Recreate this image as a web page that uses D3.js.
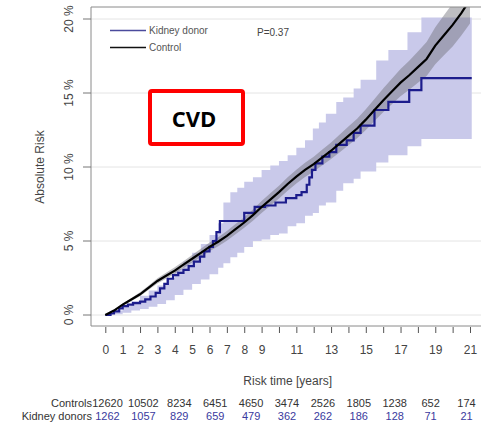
<!DOCTYPE html>
<html>
<head>
<meta charset="utf-8">
<script src="https://d3js.org/d3.v7.min.js"></script>
<style>
  body { margin: 0; background: #fff; }
  svg { display: block; font-family: "Liberation Sans", Arial, sans-serif; }
</style>
</head>
<body>
<div id="chart"></div>
<script>
// Control group: cumulative risk (%) with confidence band
var ctrlTime = [0, 0.5, 1, 1.5, 2, 2.5, 3, 3.5, 4, 4.5, 5, 5.5, 6, 6.5, 7, 7.5, 8, 8.5, 9, 9.5, 10,
  10.5, 11, 11.5, 12, 12.5, 13, 13.5, 14, 14.5, 15, 15.5, 16, 16.5, 17, 17.5, 18, 18.5, 19, 19.5, 20, 20.5, 21];
var ctrlRisk = [0, 0.3, 0.7, 1.05, 1.4, 1.85, 2.3, 2.65, 3.0, 3.4, 3.8, 4.2, 4.6, 4.95, 5.35, 5.8, 6.25,
  6.75, 7.3, 7.8, 8.3, 8.85, 9.35, 9.8, 10.2, 10.65, 11.1, 11.6, 12.1, 12.6, 13.2, 13.85, 14.5,
  15.1, 15.7, 16.2, 16.75, 17.3, 18.2, 18.9, 19.6, 20.4, 21.3];
var ctrlUpper = [0, 0.35, 0.78, 1.15, 1.53, 2.0, 2.48, 2.85, 3.22, 3.64, 4.06, 4.48, 4.9, 5.26, 5.68,
  6.15, 6.61, 7.13, 7.7, 8.22, 8.73, 9.3, 9.82, 10.28, 10.7, 11.18, 11.66, 12.2, 12.73, 13.26, 13.9,
  14.6, 15.3, 15.96, 16.62, 17.18, 17.8, 18.45, 19.45, 20.25, 21.05, 21.92, 22.9];
var ctrlLower = [0, 0.25, 0.62, 0.95, 1.27, 1.7, 2.12, 2.45, 2.78, 3.16, 3.54, 3.92, 4.3, 4.64, 5.02,
  5.45, 5.89, 6.37, 6.9, 7.38, 7.87, 8.4, 8.88, 9.32, 9.7, 10.12, 10.54, 11.0, 11.47, 11.94, 12.5,
  13.1, 13.7, 14.24, 14.78, 15.22, 15.7, 16.15, 16.95, 17.55, 18.15, 18.88, 19.7];

// Kidney donors: step curve (%)
var donorTime = [0, 0.3, 0.5, 0.8, 1.0, 1.3, 1.6, 2.0, 2.3, 2.6, 2.9, 3.15, 3.4, 3.6, 3.9, 4.2, 4.5,
  4.8, 5.1, 5.45, 5.7, 6.0, 6.2, 6.4, 6.6, 8.0, 8.6, 9.2, 9.8, 10.4, 11.0, 11.3, 11.6, 11.75, 11.9,
  12.1, 12.5, 12.9, 13.3, 13.9, 14.3, 14.7, 15.5, 16.3, 17.5, 18.2, 21.1];
var donorRisk = [0, 0.1, 0.25, 0.45, 0.6, 0.7, 0.8, 0.9, 1.05, 1.25, 1.5, 1.8, 2.1, 2.45, 2.7, 2.85,
  3.05, 3.3, 3.6, 3.95, 4.3, 4.6, 5.0, 5.6, 6.35, 6.9, 7.3, 7.4, 7.6, 7.9, 8.1, 8.3, 8.8, 9.3, 9.8,
  10.25, 10.7, 11.0, 11.5, 11.8, 12.3, 12.8, 13.85, 14.4, 15.2, 16.0, 16.0];

// Kidney donors: confidence band (%)
var donorCiTime = [0, 0.5, 1, 1.5, 2, 2.5, 3, 3.5, 4, 4.5, 5, 5.5, 6, 6.5, 6.8, 7.2, 7.6, 8.0, 8.5,
  9.0, 9.5, 10, 10.5, 11, 11.5, 11.95, 12.3, 12.7, 13.3, 13.7, 14.3, 14.7, 15.6, 16.3, 17.4, 18.2, 21.1];
var donorCiUpper = [0, 0.3, 0.6, 0.95, 1.3, 1.65, 2.0, 2.5, 3.1, 3.6, 4.2, 4.8, 5.4, 6.2, 7.6, 8.3,
  8.6, 9.0, 9.3, 9.8, 10.1, 10.4, 10.8, 11.3, 11.8, 12.6, 13.0, 13.6, 14.4, 14.7, 15.3, 15.9, 17.2,
  17.9, 19.1, 20.1, 20.1];
var donorCiLower = [0, 0.05, 0.15, 0.3, 0.4, 0.55, 0.75, 1.0, 1.35, 1.7, 2.1, 2.4, 2.75, 3.2, 3.5,
  3.9, 4.2, 4.6, 5.0, 5.1, 5.4, 5.5, 6.0, 6.2, 6.7, 6.9, 7.4, 7.6, 8.4, 8.9, 9.2, 9.7, 10.3, 10.8,
  11.4, 11.9, 11.9];

// Axis ticks
var xTicks = d3.range(0, 22);
var xTickLabels = ["0", "1", "2", "3", "4", "5", "6", "7", "8", "9", "", "11", "", "13", "", "15",
  "", "17", "", "19", "", "21"];
var yTicks = [0, 5, 10, 15, 20];

// Numbers at risk
var riskLabels = ["Controls", "Kidney donors"];
var ctrlAtRisk = [12620, 10502, 8234, 6451, 4650, 3474, 2526, 1805, 1238, 652, 174];
var donorAtRisk = [1262, 1057, 829, 659, 479, 362, 262, 186, 128, 71, 21];

var svgWidth = 481;
var svgHeight = 425;

var box = { left: 91, top: 7, bottom: 326, right: 490 };

var svg = d3.select("#chart")
  .append("svg")
  .attr("width", svgWidth)
  .attr("height", svgHeight);

var xScale = d3.scaleLinear().domain([0, 21]).range([105.3, 470]);
var yScale = d3.scaleLinear().domain([0, 20]).range([315, 19]);

// clip everything drawn inside the plot box
svg.append("clipPath")
  .attr("id", "plotClip")
  .append("rect")
  .attr("x", box.left)
  .attr("y", box.top)
  .attr("width", box.right - box.left)
  .attr("height", box.bottom - box.top);

// grid lines
svg.append("g")
  .selectAll("line")
  .data(yTicks)
  .enter()
  .append("line")
  .attr("x1", box.left)
  .attr("x2", box.right)
  .attr("y1", function(d) { return yScale(d); })
  .attr("y2", function(d) { return yScale(d); })
  .attr("stroke", "#e4e4e4")
  .attr("stroke-width", 1);

var plot = svg.append("g").attr("clip-path", "url(#plotClip)");

var donorBand = donorCiTime.map(function(t, i) {
  return { t: t, lo: donorCiLower[i], hi: donorCiUpper[i] };
});
var ctrlBand = ctrlTime.map(function(t, i) {
  return { t: t, lo: ctrlLower[i], hi: ctrlUpper[i] };
});

var bandArea = d3.area()
  .x(function(d) { return xScale(d.t); })
  .y0(function(d) { return yScale(d.lo); })
  .y1(function(d) { return yScale(d.hi); });

plot.append("path")
  .datum(donorBand)
  .attr("d", bandArea.curve(d3.curveStepAfter))
  .attr("fill", "#c9c9ea");

plot.append("path")
  .datum(ctrlBand)
  .attr("d", bandArea.curve(d3.curveLinear))
  .attr("fill", "rgba(110,110,120,0.45)");

var donorLine = d3.line()
  .x(function(d) { return xScale(d[0]); })
  .y(function(d) { return yScale(d[1]); })
  .curve(d3.curveStepAfter);

plot.append("path")
  .datum(d3.zip(donorTime, donorRisk))
  .attr("d", donorLine)
  .attr("fill", "none")
  .attr("stroke", "#1c1c8c")
  .attr("stroke-width", 2.2);

var ctrlLine = d3.line()
  .x(function(d) { return xScale(d[0]); })
  .y(function(d) { return yScale(d[1]); });

plot.append("path")
  .datum(d3.zip(ctrlTime, ctrlRisk))
  .attr("d", ctrlLine)
  .attr("fill", "none")
  .attr("stroke", "#000")
  .attr("stroke-width", 2.2);

// plot box (right side runs off the picture)
svg.append("path")
  .attr("d", "M" + box.right + "," + box.top + "H" + box.left + "V" + box.bottom + "H" + box.right)
  .attr("fill", "none")
  .attr("stroke", "#8a8a8a")
  .attr("stroke-width", 1);

// y axis ticks and rotated labels
var yAxisG = svg.append("g");
yAxisG.selectAll("line")
  .data(yTicks)
  .enter()
  .append("line")
  .attr("x1", 83)
  .attr("x2", box.left)
  .attr("y1", function(d) { return yScale(d); })
  .attr("y2", function(d) { return yScale(d); })
  .attr("stroke", "#777");
yAxisG.selectAll("text")
  .data(yTicks)
  .enter()
  .append("text")
  .attr("transform", function(d) { return "translate(73," + yScale(d) + ")rotate(-90)"; })
  .attr("text-anchor", "middle")
  .attr("font-size", 12)
  .attr("fill", "#444")
  .text(function(d) { return d + " %"; });

svg.append("text")
  .attr("transform", "translate(44," + yScale(10) + ")rotate(-90)")
  .attr("text-anchor", "middle")
  .attr("font-size", 12)
  .attr("fill", "#444")
  .text("Absolute Risk");

// x axis
var xAxis = d3.axisBottom(xScale)
  .tickValues(xTicks)
  .tickSize(6)
  .tickFormat(function(d, i) { return xTickLabels[i]; });

var xAxisG = svg.append("g")
  .attr("transform", "translate(0," + (box.bottom + 1) + ")")
  .call(xAxis);
xAxisG.select(".domain").remove();
xAxisG.selectAll(".tick line").attr("stroke", "#555");
xAxisG.selectAll(".tick text")
  .attr("y", 18)
  .attr("font-size", 12)
  .attr("font-family", "Liberation Sans, Arial, sans-serif")
  .attr("fill", "#444");

svg.append("text")
  .attr("x", (xScale(0) + xScale(21)) / 2)
  .attr("y", 385)
  .attr("text-anchor", "middle")
  .attr("font-size", 12)
  .attr("fill", "#444")
  .text("Risk time [years]");

// legend
var legend = svg.append("g").attr("font-size", 10).attr("fill", "#555");
legend.append("line")
  .attr("x1", 110).attr("x2", 146).attr("y1", 30.5).attr("y2", 30.5)
  .attr("stroke", "#4a4a9c").attr("stroke-width", 1.5);
legend.append("text").attr("x", 149).attr("y", 34).text("Kidney donor");
legend.append("line")
  .attr("x1", 110).attr("x2", 146).attr("y1", 47.5).attr("y2", 47.5)
  .attr("stroke", "#111").attr("stroke-width", 1.5);
legend.append("text").attr("x", 149).attr("y", 51).text("Control");

svg.append("text")
  .attr("x", 257)
  .attr("y", 36)
  .attr("font-size", 10)
  .attr("fill", "#444")
  .text("P=0.37");

// CVD label box
svg.append("rect")
  .attr("x", 150)
  .attr("y", 91)
  .attr("width", 93)
  .attr("height", 53)
  .attr("rx", 2)
  .attr("fill", "#fff")
  .attr("stroke", "#ff0000")
  .attr("stroke-width", 4);
svg.append("text")
  .attr("x", 194)
  .attr("y", 127)
  .attr("text-anchor", "middle")
  .attr("font-size", 22)
  .attr("font-weight", "bold")
  .attr("font-family", "Open Sans, Liberation Sans, sans-serif")
  .attr("fill", "#000")
  .text("CVD");

// numbers at risk table
var tableX = d3.scaleLinear().domain([0, 10]).range([107.5, 466.5]);
var rowY = [407, 420];

svg.selectAll(".rowLabel")
  .data(riskLabels)
  .enter()
  .append("text")
  .attr("class", "rowLabel")
  .attr("x", 92)
  .attr("y", function(d, i) { return rowY[i]; })
  .attr("text-anchor", "end")
  .attr("font-size", 11)
  .attr("fill", "#333")
  .text(function(d) { return d; });

svg.selectAll(".ctrlRisk")
  .data(ctrlAtRisk)
  .enter()
  .append("text")
  .attr("class", "ctrlRisk")
  .attr("x", function(d, i) { return tableX(i); })
  .attr("y", rowY[0])
  .attr("text-anchor", "middle")
  .attr("font-size", 11)
  .attr("fill", "#333")
  .text(function(d) { return d; });

svg.selectAll(".donorRisk")
  .data(donorAtRisk)
  .enter()
  .append("text")
  .attr("class", "donorRisk")
  .attr("x", function(d, i) { return tableX(i); })
  .attr("y", rowY[1])
  .attr("text-anchor", "middle")
  .attr("font-size", 11)
  .attr("fill", "#3a3a9e")
  .text(function(d) { return d; });
</script>
</body>
</html>
